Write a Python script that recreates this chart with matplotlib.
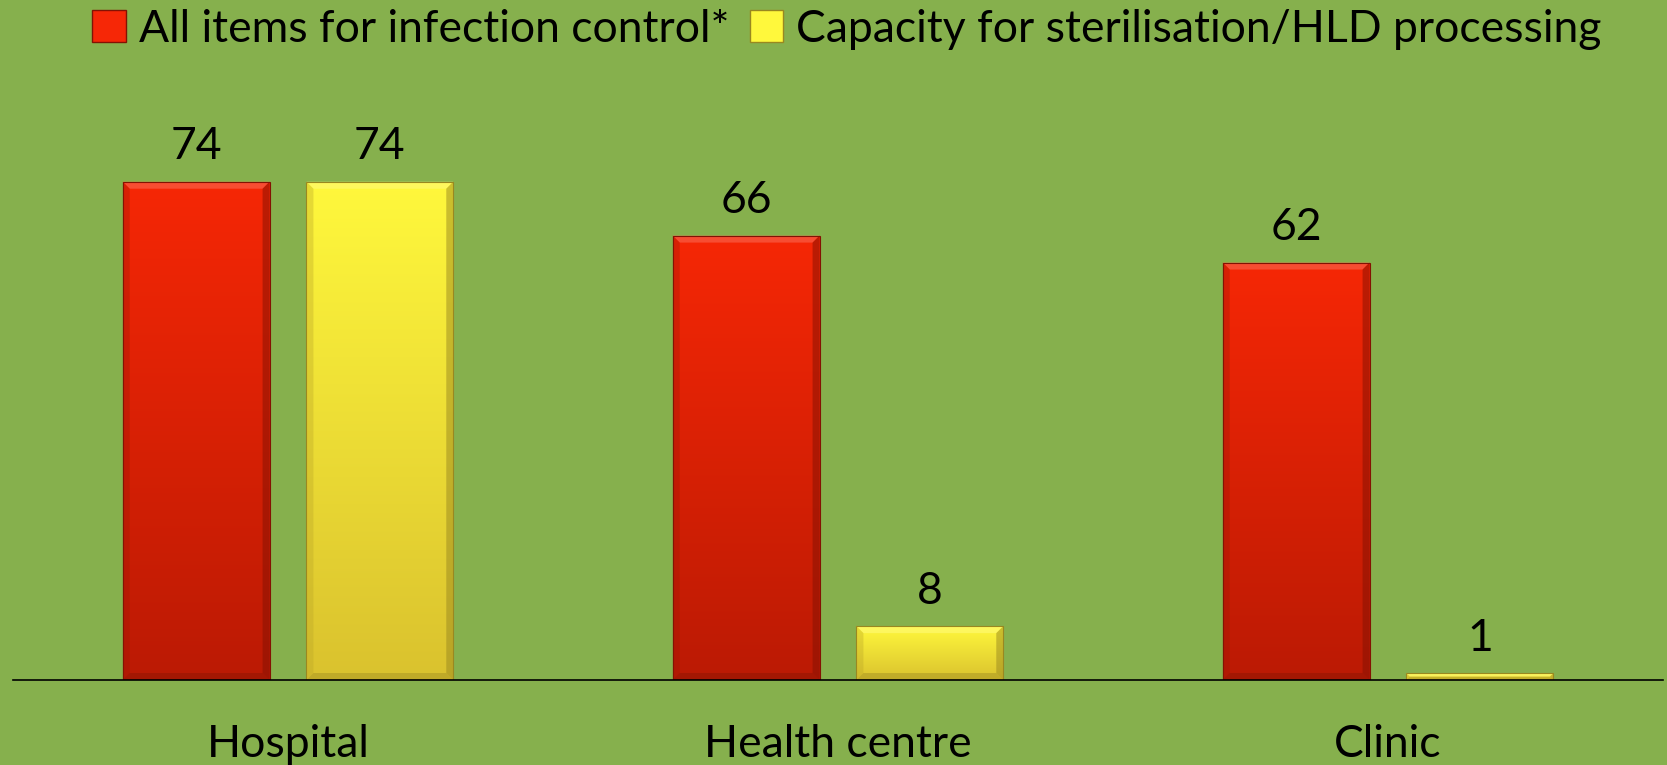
import numpy as np
import matplotlib
matplotlib.use("Agg")
import matplotlib.pyplot as plt
from matplotlib.colors import LinearSegmentedColormap, to_rgb
from matplotlib.patches import Patch, Polygon

categories = ["Hospital", "Health centre", "Clinic"]
series_names = ["All items for infection control*", "Capacity for sterilisation/HLD processing"]
infection_control = [74, 66, 62]
sterilisation = [74, 8, 1]

BG = "#86B04D"
RED_TOP, RED_BOT = "#F62706", "#BB1A04"
YEL_TOP, YEL_BOT = "#FFF83C", "#DAC22E"

plt.rcParams['font.family'] = ['Lato', 'DejaVu Sans']

W, H = 1667, 765
fig = plt.figure(figsize=(W / 100, H / 100), dpi=100, facecolor=BG)
ax = fig.add_axes([13 / W, (765 - 680) / H, 1650 / W, (680 - 141.3) / H])
ax.set_facecolor(BG)
ax.set_xlim(-0.5, 2.5)
ax.set_ylim(0, 80)

x = np.arange(len(categories))
bw = 0.267
off = 0.167

fs = 32

def px_to_data(px_x, px_y):
    inv = ax.transData.inverted()
    p0 = inv.transform((0, 0))
    p1 = inv.transform((px_x, px_y))
    return p1[0] - p0[0], p1[1] - p0[1]

def shade(c, f):
    r, g, b = to_rgb(c)
    if f > 1:
        return (r + (1 - r) * (f - 1), g + (1 - g) * (f - 1), b + (1 - b) * (f - 1))
    return (r * f, g * f, b * f)

def gradient_bars(bars, ctop, cbot):
    cmap = LinearSegmentedColormap.from_list("g", [cbot, ctop])
    grad = np.linspace(0, 1, 256).reshape(-1, 1)
    for b in bars:
        x0, y0 = b.get_x(), b.get_y()
        w, h = b.get_width(), b.get_height()
        im = ax.imshow(grad, cmap=cmap, origin="lower", aspect="auto",
                       extent=(x0, x0 + w, y0, y0 + h), zorder=2)
        im.set_clip_path(b)
        bx, by_full = px_to_data(7, 7)
        by = min(by_full, h / 2.0)
        bx2 = bx * (by / by_full)
        x1, y1 = x0 + w, y0 + h
        top = Polygon([(x0, y1), (x1, y1), (x1 - bx2, y1 - by), (x0 + bx2, y1 - by)],
                      closed=True, facecolor=shade(ctop, 1.3), edgecolor="none", alpha=0.6, zorder=3)
        bot = Polygon([(x0, y0), (x1, y0), (x1 - bx2, y0 + by), (x0 + bx2, y0 + by)],
                      closed=True, facecolor=shade(cbot, 0.8), edgecolor="none", alpha=0.6, zorder=3)
        left = Polygon([(x0, y0), (x0, y1), (x0 + bx2, y1 - by), (x0 + bx2, y0 + by)],
                       closed=True, facecolor=shade(cbot, 0.85), edgecolor="none", alpha=0.35, zorder=3)
        right = Polygon([(x1, y0), (x1, y1), (x1 - bx2, y1 - by), (x1 - bx2, y0 + by)],
                        closed=True, facecolor=shade(cbot, 0.7), edgecolor="none", alpha=0.5, zorder=3)
        for p in (top, bot, left, right):
            ax.add_patch(p)
        b.set_facecolor("none")
        b.set_edgecolor(shade(cbot, 0.7))
        b.set_linewidth(0.8)
        b.set_zorder(4)

bars1 = ax.bar(x - off, infection_control, bw, color="none")
bars2 = ax.bar(x + off, sterilisation, bw, color="none")
gradient_bars(bars1, RED_TOP, RED_BOT)
gradient_bars(bars2, YEL_TOP, YEL_BOT)

for bars in (bars1, bars2):
    ax.bar_label(bars, labels=[str(v) for v in bars.datavalues], padding=10.5,
                 fontsize=fs, color="black")

for s in ("top", "right", "left"):
    ax.spines[s].set_visible(False)
ax.spines["bottom"].set_color("black")
ax.spines["bottom"].set_linewidth(1.2)
ax.spines["bottom"].set_zorder(5)
ax.set_yticks([])
ax.set_xticks(x)
ax.set_xticklabels(categories, fontsize=fs)
ax.tick_params(axis="x", length=0, pad=32)

handles = [Patch(facecolor=RED_TOP, edgecolor=shade(RED_BOT, 0.7)),
           Patch(facecolor=YEL_TOP, edgecolor=shade(YEL_BOT, 0.7))]
fig.legend(handles, series_names, loc="center", bbox_to_anchor=(847 / W, 1 - 29 / H),
           ncol=2, frameon=False, fontsize=fs, handlelength=0.75, handleheight=0.75,
           handletextpad=0.3, columnspacing=0.45, borderpad=0, borderaxespad=0)

fig.savefig("out.png", dpi=100, facecolor=BG)
